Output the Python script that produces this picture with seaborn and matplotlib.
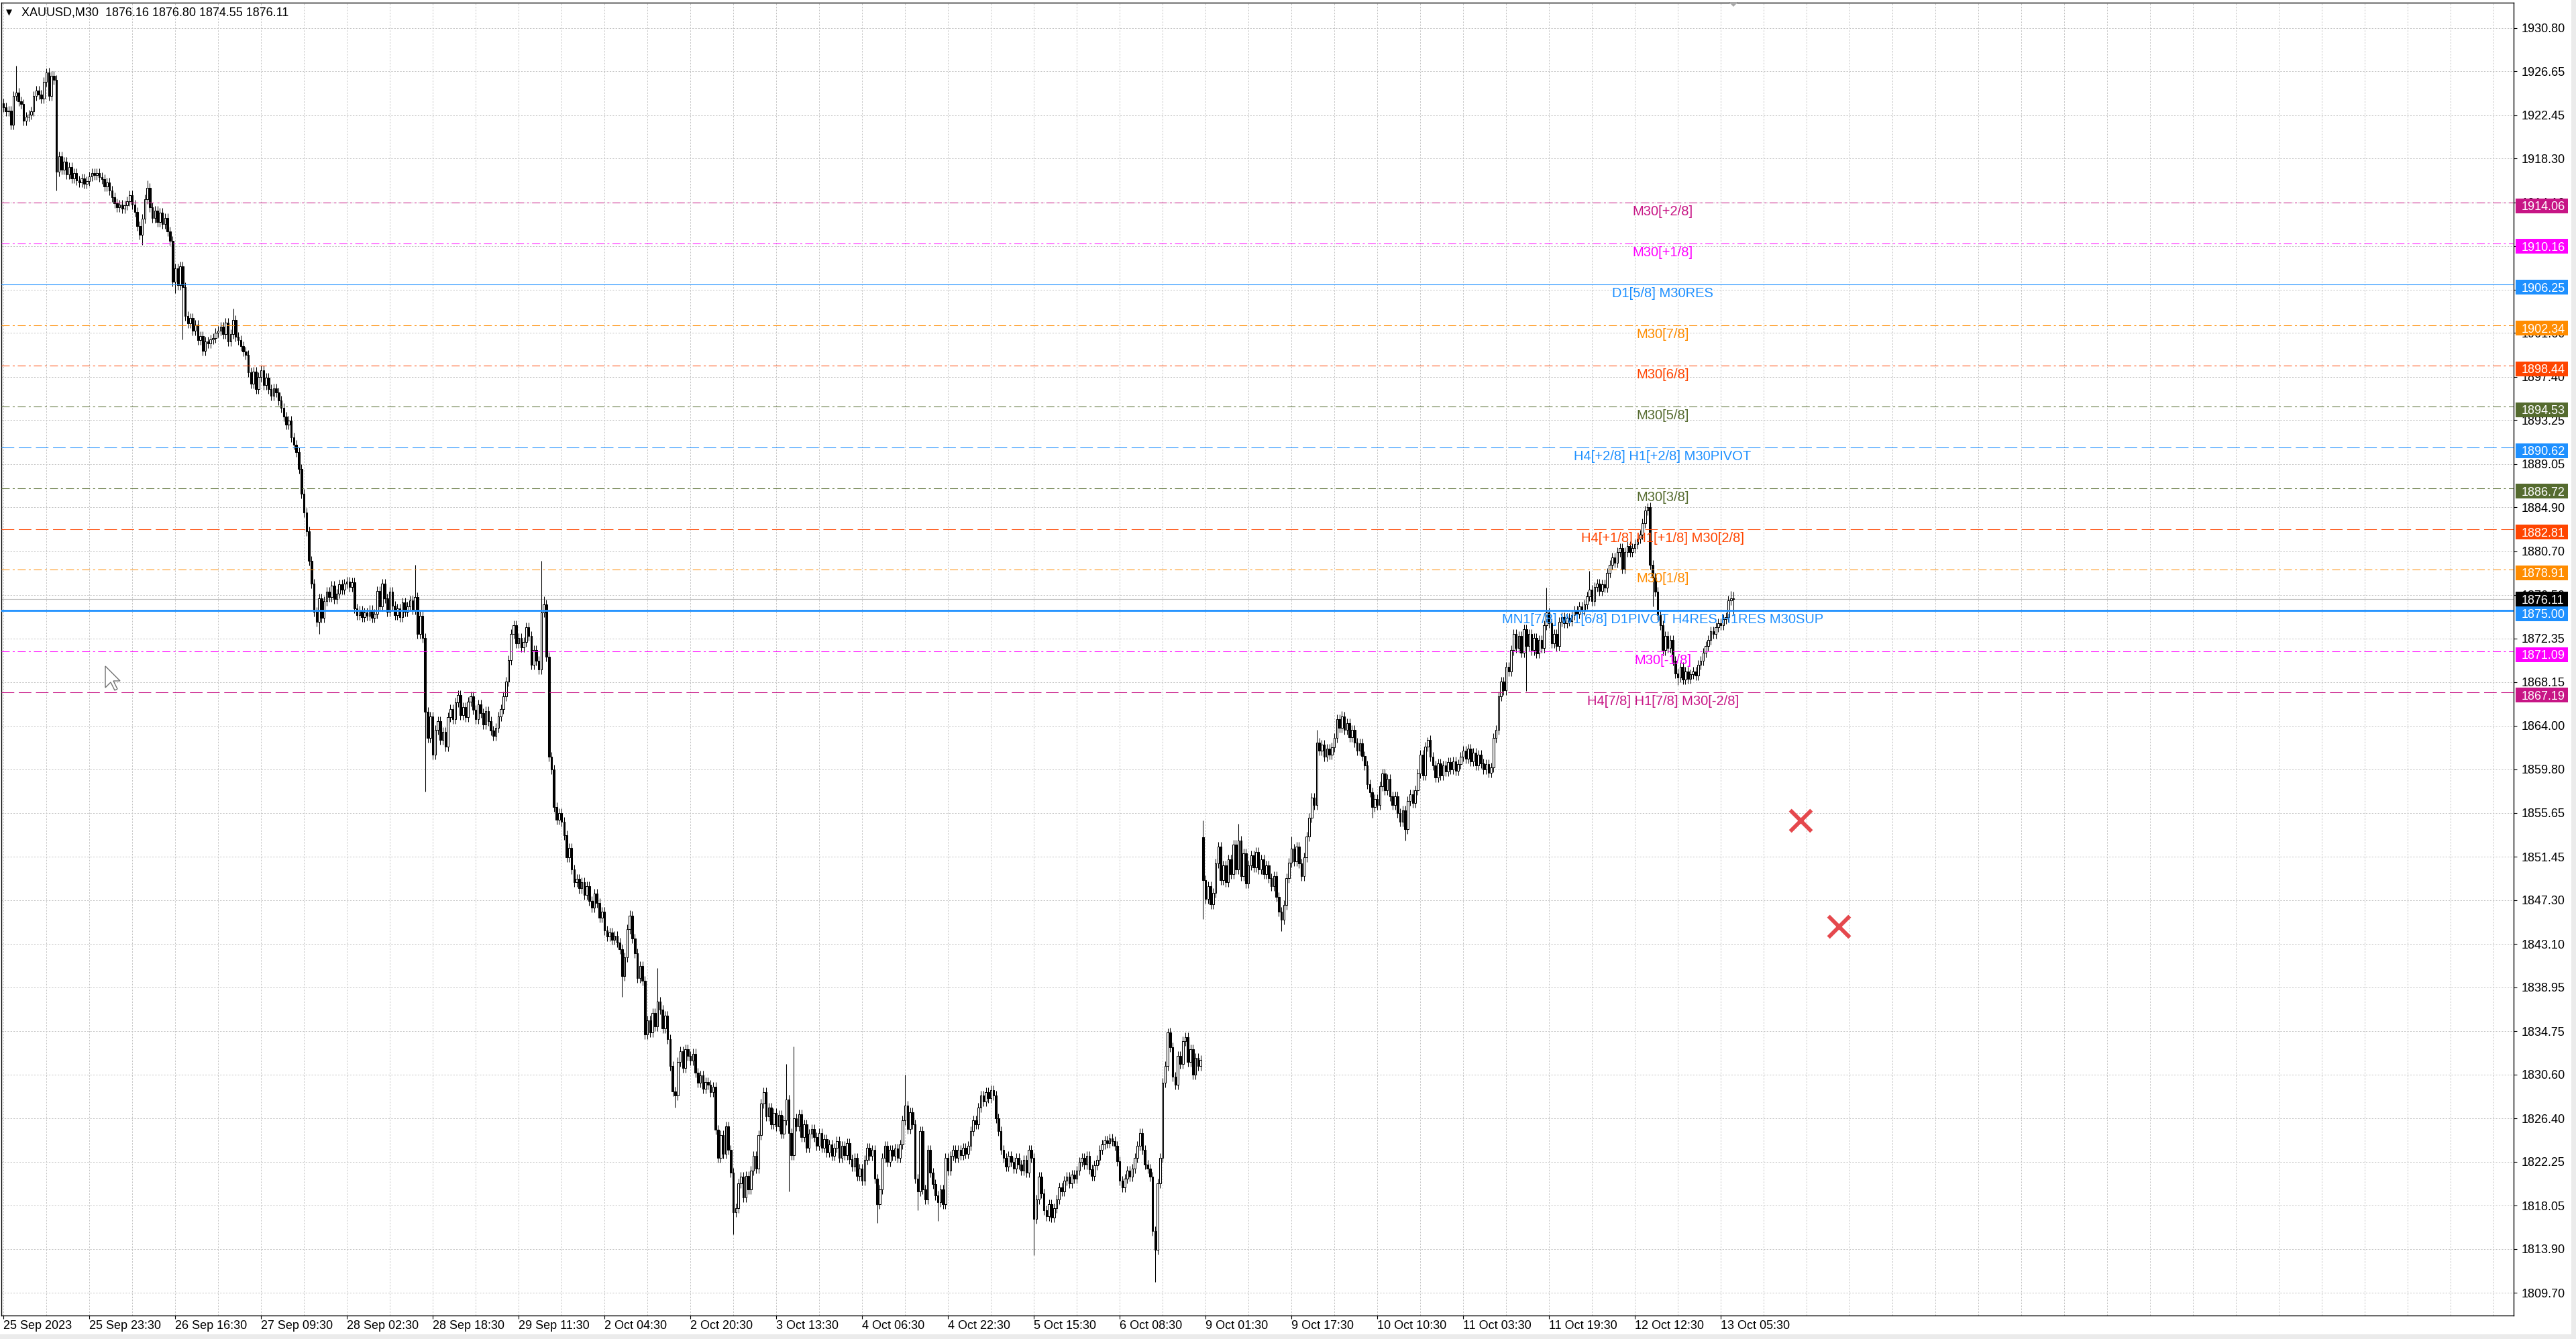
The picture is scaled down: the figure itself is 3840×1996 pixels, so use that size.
import numpy as np
import pandas as pd
import matplotlib
matplotlib.use("Agg")
import matplotlib.pyplot as plt
import matplotlib.transforms as mtransforms
from matplotlib.patches import Rectangle, Polygon
import seaborn as sns

W, H, DPI = 3840, 1996, 100

# XAUUSD M30 closes, bar by bar
closes = [
    1923.2, 1922.8, 1922.9, 1921.5, 1924.3, 1924.6, 1923.8, 1923.5, 1921.9, 1922.3,  # 0
    1922.5, 1922.8, 1924.3, 1924.8, 1924.4, 1924.0, 1925.6, 1926.5, 1924.3, 1926.2,
    1925.8, 1917.0, 1918.5, 1917.2, 1918.0, 1916.8, 1917.5, 1916.4, 1916.9, 1916.2,
    1916.0, 1916.4, 1915.9, 1916.1, 1916.6, 1916.9, 1916.7, 1916.9, 1916.5, 1916.3,
    1915.6, 1916.0, 1915.2, 1914.6, 1914.0, 1913.6, 1913.9, 1913.5, 1913.8, 1914.2,
    1914.8, 1913.9, 1913.2, 1911.8, 1911.0, 1912.5, 1914.4, 1915.5, 1913.6, 1912.6,  # 50
    1913.3, 1912.2, 1913.1, 1912.0, 1912.6, 1911.3, 1910.4, 1906.5, 1907.8, 1906.2,
    1908.0, 1906.0, 1903.2, 1902.5, 1903.0, 1901.8, 1902.4, 1900.9, 1901.3, 1899.9,
    1900.8, 1900.6, 1901.0, 1901.1, 1901.6, 1901.8, 1902.2, 1901.5, 1902.6, 1900.8,
    1901.5, 1902.8, 1901.2, 1900.9, 1900.3, 1899.8, 1899.5, 1897.8, 1896.7, 1897.9,
    1896.2, 1897.4, 1898.0, 1896.6, 1897.3, 1896.2, 1895.6, 1896.3, 1895.9, 1895.1,  # 100
    1894.4, 1893.6, 1892.8, 1893.2, 1891.6, 1890.9, 1890.2, 1888.6, 1886.2, 1884.4,
    1882.6, 1879.8, 1877.6, 1874.9, 1873.9, 1876.2, 1874.3, 1875.9, 1876.8, 1876.3,
    1877.4, 1876.1, 1876.6, 1877.5, 1877.0, 1877.6, 1877.8, 1877.3, 1877.7, 1875.2,
    1874.6, 1875.0, 1874.4, 1874.8, 1874.5, 1875.1, 1874.3, 1874.7, 1876.9, 1875.4,
    1877.6, 1876.2, 1874.9, 1876.8, 1875.5, 1874.6, 1875.2, 1874.4, 1875.8, 1874.9,  # 150
    1875.4, 1876.0, 1875.1, 1876.3, 1872.8, 1874.5, 1872.4, 1865.3, 1862.8, 1864.9,
    1861.2, 1863.6, 1864.4, 1862.6, 1863.4, 1862.0, 1864.8, 1865.6, 1864.6, 1866.2,
    1866.9, 1865.0, 1865.8, 1864.8, 1866.3, 1866.8, 1865.5, 1864.6, 1866.0, 1865.2,
    1864.1, 1865.4, 1864.4, 1863.5, 1863.0, 1863.8, 1864.9, 1865.6, 1866.8, 1868.2,
    1870.3, 1872.8, 1873.6, 1871.9, 1872.4, 1871.5, 1872.0, 1873.4, 1872.6, 1869.8,  # 200
    1871.2, 1870.2, 1869.4, 1874.8, 1875.6, 1870.6, 1861.0, 1859.8, 1856.2, 1855.0,
    1855.6, 1854.8, 1853.5, 1851.4, 1852.3, 1850.2, 1849.0, 1849.3, 1848.4, 1849.0,
    1847.8, 1848.6, 1847.2, 1846.6, 1847.9, 1847.0, 1845.6, 1846.2, 1844.4, 1843.8,
    1844.2, 1843.5, 1843.9, 1843.2, 1842.6, 1840.0, 1841.8, 1844.5, 1845.8, 1843.6,
    1842.2, 1839.8, 1841.0, 1839.6, 1834.4, 1835.8, 1834.6, 1836.5, 1835.2, 1837.6,  # 250
    1836.8, 1835.0, 1836.2, 1834.0, 1831.4, 1829.0, 1828.6, 1831.8, 1832.8, 1831.2,
    1833.0, 1832.4, 1831.9, 1832.6, 1830.8, 1829.8, 1830.5, 1829.2, 1829.9, 1829.6,
    1828.9, 1829.4, 1825.3, 1822.6, 1824.8, 1823.0, 1825.6, 1823.4, 1821.2, 1817.4,
    1817.8, 1820.2, 1820.8, 1818.8, 1820.9, 1819.6, 1821.4, 1822.8, 1821.6, 1824.8,
    1827.8, 1828.9, 1826.6, 1827.4, 1825.8, 1826.9, 1825.6, 1826.7, 1824.9, 1826.2,  # 300
    1828.2, 1825.0, 1822.9, 1826.4, 1825.6, 1826.8, 1824.6, 1825.8, 1823.6, 1824.9,
    1825.4, 1824.6, 1823.8, 1825.0, 1823.6, 1824.4, 1823.1, 1823.9, 1822.8, 1823.6,
    1824.2, 1822.6, 1823.8, 1822.9, 1824.0, 1822.5, 1821.8, 1822.6, 1820.9, 1821.6,
    1820.4, 1822.4, 1823.6, 1822.8, 1823.4, 1820.6, 1818.2, 1819.6, 1822.6, 1823.8,
    1822.2, 1823.4, 1822.8, 1823.5, 1822.6, 1823.9, 1826.2, 1827.6, 1825.4, 1827.0,  # 350
    1825.8, 1820.6, 1819.4, 1825.2, 1819.6, 1818.6, 1823.4, 1821.2, 1820.1, 1819.0,
    1818.4, 1819.6, 1818.2, 1822.6, 1821.4, 1822.8, 1823.4, 1822.6, 1823.4, 1822.9,
    1823.6, 1823.0, 1823.8, 1825.2, 1826.2, 1825.8, 1827.4, 1828.6, 1828.0, 1828.9,
    1828.3, 1829.1, 1828.6, 1826.4, 1825.2, 1823.4, 1822.6, 1821.8, 1822.8, 1822.2,
    1821.6, 1822.6, 1822.0, 1821.4, 1822.4, 1821.2, 1823.4, 1822.6, 1816.8, 1818.6,  # 400
    1820.8, 1819.2, 1817.6, 1817.0, 1818.2, 1816.9, 1817.8, 1818.6, 1819.8, 1819.4,
    1820.4, 1820.8, 1820.2, 1821.0, 1820.6, 1821.4, 1822.2, 1822.6, 1822.0, 1822.8,
    1821.5, 1820.9, 1821.9, 1822.4, 1823.4, 1823.9, 1824.3, 1824.0, 1824.5, 1824.2,
    1823.8, 1822.3, 1820.4, 1819.8, 1820.6, 1821.4, 1820.8, 1821.6, 1822.6, 1823.8,
    1825.0, 1823.4, 1822.0, 1821.6, 1820.8, 1815.6, 1813.8, 1820.2, 1822.6, 1829.8,  # 450
    1831.4, 1834.6, 1833.2, 1830.4, 1829.6, 1832.4, 1831.6, 1833.8, 1834.2, 1831.8,
    1833.0, 1830.6, 1832.2, 1831.4, 1832.0, 1849.2, 1847.4, 1848.6, 1846.9, 1848.0,
    1850.8, 1852.4, 1849.2, 1850.6, 1849.0, 1851.2, 1849.8, 1852.6, 1850.2, 1853.0,
    1849.6, 1851.8, 1848.9, 1850.6, 1851.6, 1850.4, 1851.9, 1850.2, 1851.2, 1849.8,
    1850.6, 1849.4, 1848.6, 1849.6, 1847.6, 1846.2, 1845.4, 1846.8, 1849.4, 1850.9,  # 500
    1852.2, 1851.0, 1852.4, 1850.8, 1849.6, 1851.4, 1853.4, 1855.2, 1857.1, 1856.4,
    1862.4, 1861.6, 1862.2, 1861.0, 1861.8, 1861.2, 1861.9, 1862.8, 1864.6, 1863.8,
    1864.9, 1863.6, 1864.2, 1862.9, 1863.6, 1862.4, 1861.6, 1862.3, 1861.1, 1860.2,
    1858.4, 1857.6, 1856.2, 1857.0, 1856.4, 1858.2, 1859.4, 1857.8, 1858.9, 1857.2,
    1856.4, 1857.2, 1855.6, 1854.8, 1855.9, 1854.1, 1856.8, 1857.4, 1856.6, 1857.8,  # 550
    1859.4, 1861.2, 1859.2, 1862.0, 1862.6, 1861.0, 1860.2, 1859.0, 1860.4, 1859.2,
    1860.2, 1859.6, 1860.5, 1859.8, 1860.6, 1859.7, 1860.3, 1861.0, 1861.6, 1860.8,
    1861.8, 1860.6, 1861.4, 1860.2, 1861.2, 1860.4, 1859.8, 1860.3, 1859.5, 1860.0,
    1862.8, 1863.6, 1866.8, 1868.2, 1867.4, 1869.6, 1869.2, 1871.2, 1872.8, 1871.4,
    1872.6, 1871.0, 1873.2, 1871.6, 1872.8, 1871.2, 1872.4, 1870.9, 1872.2, 1871.4,  # 600
    1873.6, 1874.8, 1873.8, 1871.9, 1872.8, 1871.6, 1873.9, 1874.4, 1873.8, 1874.3,
    1874.0, 1874.6, 1875.0, 1874.7, 1875.4, 1875.0, 1875.6, 1876.4, 1877.0, 1875.9,
    1877.3, 1877.6, 1876.9, 1877.5, 1877.2, 1878.6, 1879.4, 1880.1, 1879.6, 1880.6,
    1881.0, 1879.0, 1880.6, 1881.2, 1880.6, 1881.0, 1881.4, 1881.9, 1882.3, 1883.4,
    1884.6, 1884.9, 1879.4, 1878.2, 1876.8, 1874.6, 1873.6, 1871.2, 1872.6, 1871.4,  # 650
    1872.2, 1870.2, 1869.0, 1868.6, 1869.6, 1868.4, 1869.2, 1868.5, 1868.9, 1869.2,
    1868.8, 1869.8, 1870.2, 1871.0, 1871.6, 1872.2, 1873.0, 1872.8, 1873.4, 1873.8,
    1873.6, 1874.2, 1874.4, 1876.0, 1876.16, 1876.11,
]
first_open = 1923.6
gap_opens = {475: 1853.3}          # Monday gap up
wick = 0.45                          # typical shadow length
high_marks = {5: 1927.2, 17: 1926.9, 57: 1916.2, 91: 1903.9, 163: 1879.4,
              213: 1879.8, 214: 1876.4, 248: 1846.3, 259: 1840.8, 310: 1831.6,
              313: 1833.3, 357: 1830.6, 461: 1835.0, 475: 1854.9, 489: 1854.6,
              510: 1853.4, 520: 1863.6, 530: 1865.4, 564: 1862.9, 611: 1877.2,
              628: 1878.8, 651: 1885.3, 684: 1876.9, 685: 1876.80}
low_marks = {21: 1915.2, 55: 1910.0, 68: 1905.4, 71: 1901.0, 125: 1872.8,
             167: 1857.7, 245: 1838.0, 266: 1827.4, 289: 1815.3, 311: 1819.4,
             346: 1816.4, 362: 1817.6, 370: 1816.6, 408: 1813.3, 456: 1810.7,
             475: 1845.5, 506: 1844.3, 542: 1855.2, 555: 1853.0, 603: 1867.3,
             653: 1875.4, 663: 1867.9, 685: 1874.55}

# Murrey math levels
level_prices = [1914.06, 1910.16, 1906.25, 1902.34, 1898.44, 1894.53, 1890.62,
                1886.72, 1882.81, 1878.91, 1875.00, 1871.09, 1867.19]
level_names = ["M30[+2/8]", "M30[+1/8]", "D1[5/8] M30RES", "M30[7/8]", "M30[6/8]",
               "M30[5/8]", "H4[+2/8] H1[+2/8] M30PIVOT", "M30[3/8]",
               "H4[+1/8] H1[+1/8] M30[2/8]", "M30[1/8]",
               "MN1[7/8] W1[6/8] D1PIVOT H4RES H1RES M30SUP", "M30[-1/8]",
               "H4[7/8] H1[7/8] M30[-2/8]"]
level_colors = ["#C71585", "#FF00FF", "#1E90FF", "#FF8C00", "#FF4500", "#556B2F",
                "#1E90FF", "#556B2F", "#FF4500", "#FF8C00", "#1E90FF", "#FF00FF",
                "#C71585"]
level_styles = ["dashdot", "dashdot", "solid", "dashdot", "dashdot", "dashdot", "dashed",
                "dashdot", "dashed", "dashdot", "solid", "dashdot", "dashed"]
level_widths = [0.75, 0.75, 0.75, 0.75, 0.75, 0.75, 0.75, 0.75, 0.75, 0.75, 2.0, 0.75, 0.75]
label_bar = 657
current_price = 1876.11
header = "XAUUSD,M30  1876.16 1876.80 1874.55 1876.11"

ytick_values = [1809.70, 1813.90, 1818.05, 1822.25, 1826.40, 1830.60, 1834.75, 1838.95,
                1843.10, 1847.30, 1851.45, 1855.65, 1859.80, 1864.00, 1868.15, 1872.35,
                1876.50, 1880.70, 1884.90, 1889.05, 1893.25, 1897.40, 1901.60, 1905.75,
                1909.90, 1914.10, 1918.30, 1922.45, 1926.65, 1930.80]
hidden_ticks = [1905.75, 1909.90]   # fully covered by the level price boxes
xtick_labels = ["25 Sep 2023", "25 Sep 23:30", "26 Sep 16:30", "27 Sep 09:30",
                "28 Sep 02:30", "28 Sep 18:30", "29 Sep 11:30", "2 Oct 04:30",
                "2 Oct 20:30", "3 Oct 13:30", "4 Oct 06:30", "4 Oct 22:30",
                "5 Oct 15:30", "6 Oct 08:30", "9 Oct 01:30", "9 Oct 17:30",
                "10 Oct 10:30", "11 Oct 03:30", "11 Oct 19:30", "12 Oct 12:30",
                "13 Oct 05:30"]
xtick_step = 34
grid_step = 17

marker_bars = [711.5, 726.7]
marker_prices = [1854.9, 1844.8]

# build OHLC table
df = pd.DataFrame({"bar": np.arange(len(closes)), "close": closes})
df["open"] = df["close"].shift(1).fillna(first_open)
for b, o in gap_opens.items():
    df.loc[b, "open"] = o
top = df[["open", "close"]].max(axis=1)
bot = df[["open", "close"]].min(axis=1)
df["high"] = top + wick
df["low"] = bot - wick
for b, v in high_marks.items():
    df.loc[b, "high"] = max(v, top[b])
for b, v in low_marks.items():
    df.loc[b, "low"] = min(v, bot[b])

sns.set_theme(style="white")
plt.rcParams["font.family"] = ["Liberation Sans", "DejaVu Sans"]

fig = plt.figure(figsize=(W / DPI, H / DPI), dpi=DPI, facecolor="white")
ax_l, ax_r, ax_t, ax_b = 2, 3747, 4, 1961
ax = fig.add_axes([ax_l / W, 1 - ax_b / H, (ax_r - ax_l) / W, (ax_b - ax_t) / H])
ax.set_facecolor("white")
ax.set_xlim(-0.8, 993.9)
ax.set_ylim(1807.52, 1933.21)
px_per_price = (ax_b - ax_t) / (1933.21 - 1807.52)

# axes, ticks, grid
ax.set_xticks(np.arange(len(xtick_labels)) * xtick_step)
ax.set_xticklabels(xtick_labels, ha="left")
ax.set_xticks(np.arange(0, 994, grid_step), minor=True)
ax.yaxis.tick_right()
ax.set_yticks(ytick_values)
ax.set_yticklabels(["" if v in hidden_ticks else f"{v:.2f}" for v in ytick_values])
ax.tick_params(axis="x", which="major", bottom=True, direction="out", length=3.6,
               width=0.8, color="black", labelsize=13, labelcolor="black", pad=1.5)
ax.tick_params(axis="x", which="minor", bottom=True, length=0)
ax.tick_params(axis="y", which="major", right=True, left=False, direction="out",
               length=3.6, width=0.8, color="black", labelsize=13, labelcolor="black", pad=5)
ax.grid(True, axis="x", which="both", color="#C4C4C4", linestyle=(0, (2.2, 2.2)), linewidth=0.72)
ax.grid(True, axis="y", which="major", color="#C4C4C4", linestyle=(0, (2.2, 2.2)), linewidth=0.72)
ax.set_axisbelow(True)
for s in ax.spines.values():
    s.set_visible(True)
    s.set_color("black")
    s.set_linewidth(1.0)

# candles
bull = df["close"] >= df["open"]
body = (top - bot).clip(lower=0.08)
ax.vlines(df["bar"], df["low"], df["high"], color="black", linewidth=0.75, zorder=3)
ax.bar(df["bar"], body, bottom=bot, width=0.68, color=np.where(bull, "white", "black"),
       edgecolor="black", linewidth=0.75, zorder=4)

# level lines, labels, price boxes
dash = {"dashdot": (0, (11.5, 4.3, 2.9, 4.3)), "dashed": (0, (18, 6.5)), "solid": "-"}
blend = mtransforms.blended_transform_factory(ax.transAxes, ax.transData)
label_tr = mtransforms.offset_copy(ax.transData, fig=fig, y=-4, units="dots")
ax_w = ax_r - ax_l
box_x0 = (3750 - ax_l) / ax_w
box_w = 78 / ax_w
text_x = (3759 - ax_l) / ax_w
half_h = 11 / px_per_price
box_drop = 4.5 / px_per_price       # level boxes sit slightly below their line

ax.axhline(current_price, color="#BEBEBE", linewidth=0.8, zorder=2)
for p, name, col, st, lw in zip(level_prices, level_names, level_colors, level_styles, level_widths):
    ax.axhline(p, color=col, linestyle=dash[st], linewidth=lw, zorder=5)
    ax.text(label_bar, p, name, color=col, ha="center", va="top", fontsize=14.5,
            transform=label_tr, zorder=6)

box_prices = level_prices + [current_price]
box_colors = level_colors + ["black"]
box_centers = [p - box_drop for p in level_prices] + [current_price]
for p, col, c in zip(box_prices, box_colors, box_centers):
    ax.add_patch(Rectangle((box_x0, c - half_h), box_w, 2 * half_h, transform=blend,
                           facecolor=col, edgecolor="none", clip_on=False, zorder=10))
    ax.text(text_x, c, f"{p:.2f}", transform=blend, color="white", fontsize=13,
            ha="left", va="center_baseline", clip_on=False, zorder=11)

# red cross objects
sns.scatterplot(x=marker_bars, y=marker_prices, marker="x", s=520, color="#E5484D",
                linewidth=4.2, ax=ax, legend=False, zorder=7)
ax.set_xlabel("")
ax.set_ylabel("")

# header
fig.text(9 / W, 1 - 19 / H, "\u25BC", fontsize=8.5, va="center", ha="left", color="black",
         family=["DejaVu Sans"])
fig.text(32 / W, 1 - 19 / H, header, fontsize=13, va="center", ha="left", color="black")

# mouse cursor and chart-shift marker
cur = np.array([(0, 0), (0, 16), (4, 12), (7, 18), (9, 17), (6, 11), (11, 11)]) * 2.0
pts = [((157 + cx) / W, 1 - (993 + cy) / H) for cx, cy in cur]
fig.add_artist(Polygon(pts, closed=True, transform=fig.transFigure, facecolor="white",
                       edgecolor="#707070", linewidth=1.0, zorder=20))
fig.add_artist(Polygon([(2577 / W, 1 - 3 / H), (2591 / W, 1 - 3 / H), (2584 / W, 1 - 10 / H)],
                       closed=True, transform=fig.transFigure, facecolor="#A8A8A8",
                       edgecolor="none", zorder=20))

# window border
fig.add_artist(Rectangle((3833 / W, 0), 7 / W, 1, transform=fig.transFigure,
                         facecolor="#EBEBEB", edgecolor="none", zorder=0))
fig.add_artist(Rectangle((0, 0), 1, 7 / H, transform=fig.transFigure,
                         facecolor="#EBEBEB", edgecolor="none", zorder=0))

fig.savefig("out.png", dpi=DPI, facecolor="white")
